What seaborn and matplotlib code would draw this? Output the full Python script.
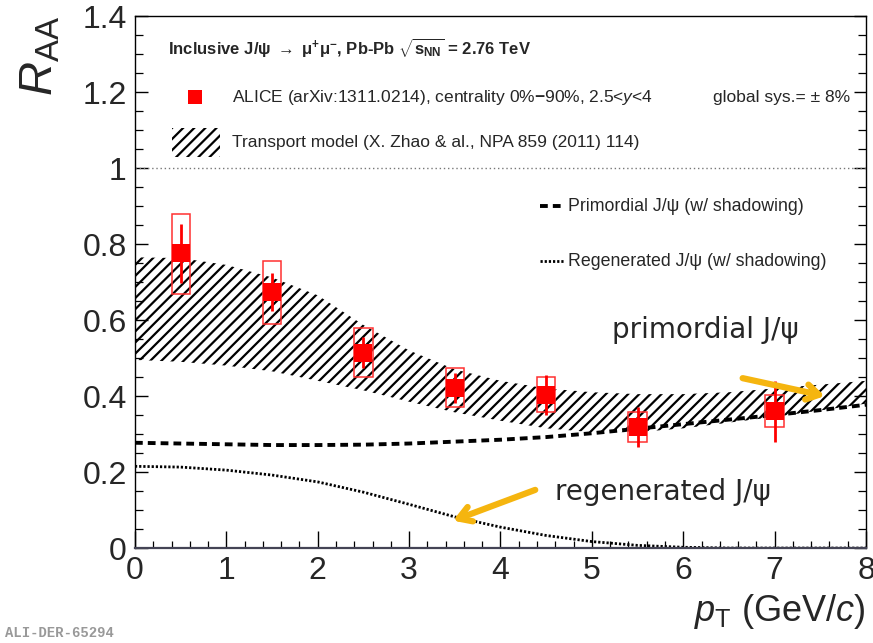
import numpy as np
import pandas as pd
import matplotlib
matplotlib.use("Agg")
import matplotlib.pyplot as plt
import seaborn as sns
from matplotlib.patches import Rectangle
from matplotlib.ticker import MultipleLocator, FixedLocator, FixedFormatter

# ---------------- data ----------------
pt_points = [0.5, 1.5, 2.5, 3.5, 4.5, 5.5, 7.0]
raa = [0.776, 0.674, 0.513, 0.421, 0.403, 0.318, 0.360]
stat_lo = [0.697, 0.624, 0.473, 0.382, 0.350, 0.266, 0.279]
stat_hi = [0.853, 0.724, 0.555, 0.461, 0.455, 0.371, 0.440]
sys_lo = [0.668, 0.590, 0.450, 0.371, 0.358, 0.279, 0.318]
sys_hi = [0.880, 0.755, 0.579, 0.474, 0.450, 0.358, 0.403]

pt_model = [0.0, 0.5, 1.0, 1.5, 2.0, 2.5, 3.0, 3.5, 4.0, 4.5, 5.0, 5.5, 6.0, 6.5, 7.0, 7.5, 8.0]
band_hi = [0.765, 0.763, 0.745, 0.712, 0.665, 0.587, 0.520, 0.470, 0.440, 0.420, 0.410, 0.405, 0.405, 0.410, 0.420, 0.430, 0.440]
band_lo = [0.495, 0.490, 0.480, 0.465, 0.440, 0.415, 0.385, 0.357, 0.335, 0.315, 0.305, 0.305, 0.315, 0.330, 0.345, 0.362, 0.380]
primordial = [0.277, 0.275, 0.273, 0.271, 0.271, 0.272, 0.275, 0.280, 0.285, 0.292, 0.302, 0.314, 0.326, 0.338, 0.350, 0.363, 0.377]
regenerated = [0.215, 0.213, 0.205, 0.192, 0.174, 0.147, 0.115, 0.082, 0.055, 0.033, 0.017, 0.007, 0.002, 0.0, 0.0, 0.0, 0.0]

xticks = [0, 1, 2, 3, 4, 5, 6, 7, 8]
xtick_labels = ["0", "1", "2", "3", "4", "5", "6", "7", "8"]
yticks = [0.0, 0.2, 0.4, 0.6, 0.8, 1.0, 1.2, 1.4]
ytick_labels = ["0", "0.2", "0.4", "0.6", "0.8", "1", "1.2", "1.4"]

# ---------------- style ----------------
sns.set_style("ticks")
plt.rcParams["font.family"] = ["Liberation Sans", "DejaVu Sans"]
plt.rcParams["mathtext.fontset"] = "custom"
plt.rcParams["mathtext.rm"] = "Liberation Sans"
plt.rcParams["mathtext.it"] = "Liberation Sans:italic"
plt.rcParams["mathtext.bf"] = "Liberation Sans:bold"
plt.rcParams["hatch.linewidth"] = 1.6

fig = plt.figure(figsize=(8.73, 6.43), dpi=100)
ax = fig.add_axes([0.1546, 0.1477, 0.8374, 0.8274])

pts = pd.DataFrame({"pt": pt_points, "raa": raa})
model = pd.DataFrame({"pt": pt_model, "hi": band_hi, "lo": band_lo,
                      "prim": primordial, "regen": regenerated})

# hatched transport-model band
ax.fill_between(model["pt"], model["lo"], model["hi"], facecolor="none",
                edgecolor="black", hatch="///", linewidth=0, zorder=1)

# primordial and regenerated curves
sns.lineplot(data=model, x="pt", y="prim", ax=ax, color="black", lw=2.8,
             zorder=2).lines[-1].set_dashes((2.0, 1.3))
sns.lineplot(data=model, x="pt", y="regen", ax=ax, color="black", lw=2.0,
             zorder=2).lines[-1].set_dashes((0.8, 0.7))

# unity reference line
ax.axhline(1.0, color="#777777", lw=1.0, ls=(0, (1, 2)), zorder=1)

# systematic boxes
ax.bar(pt_points, np.array(sys_hi) - np.array(sys_lo), bottom=sys_lo, width=0.2,
       fill=False, edgecolor="#ff3030", linewidth=1.1, zorder=3)
# stat errors
ax.errorbar(pt_points, raa,
            yerr=[np.array(raa) - np.array(stat_lo), np.array(stat_hi) - np.array(raa)],
            fmt="none", ecolor="red", elinewidth=2.0, capsize=0, zorder=4)
sns.scatterplot(data=pts, x="pt", y="raa", ax=ax, marker="s", color="red",
                s=150, edgecolor="red", linewidth=0, zorder=5)

# ---------------- axes ----------------
ax.set_xlim(0, 8)
ax.set_ylim(0, 1.4)
ax.xaxis.set_major_locator(FixedLocator(xticks))
ax.xaxis.set_major_formatter(FixedFormatter(xtick_labels))
ax.yaxis.set_major_locator(FixedLocator(yticks))
ax.yaxis.set_major_formatter(FixedFormatter(ytick_labels))
ax.xaxis.set_minor_locator(MultipleLocator(0.2))
ax.yaxis.set_minor_locator(MultipleLocator(0.05))
ax.tick_params(which="both", direction="in", top=False, right=True, color="black")
ax.tick_params(which="major", labelsize=23, pad=6)
ax.tick_params(axis="y", which="major", length=9, width=1.0)
ax.tick_params(axis="y", which="minor", length=6, width=0.9)
ax.tick_params(axis="x", which="major", length=12, width=1.0)
ax.tick_params(axis="x", which="minor", length=5, width=0.9)
for s in ax.spines.values():
    s.set_linewidth(1.0)
    s.set_color("black")
ax.spines["bottom"].set_linewidth(1.6)
ax.spines["bottom"].set_color("#444455")

ax.set_xlabel(r"$p_{\mathrm{T}}$ (GeV/$c$)", fontsize=26, loc="right", labelpad=4)
ax.set_ylabel(r"$R_{\mathrm{AA}}$", fontsize=34, loc="top", labelpad=14)

# ---------------- legend (drawn as text) ----------------
def px(xp, yp):
    # figure-pixel to axes fraction
    x0, y0 = 135, 548
    return ((xp - x0) / (866 - x0), (y0 - yp) / (548 - 16))

ax.text(*px(168, 48), r"Inclusive J/ψ $\rightarrow$ μ$^{\mathbf{+}}$μ$^{\mathbf{-}}$, Pb-Pb $\sqrt{\mathbf{s}_{\mathbf{NN}}}$ = 2.76 TeV",
        transform=ax.transAxes, fontsize=12, fontweight="bold", va="center", ha="left")
ax.add_patch(Rectangle(px(188, 104), 14 / 731, 14 / 532, transform=ax.transAxes,
                       facecolor="red", edgecolor="none"))
ax.text(*px(232, 97), r"ALICE (arXiv:1311.0214), centrality 0%$\mathbf{-}$90%, 2.5<$y$<4",
        transform=ax.transAxes, fontsize=12.5, va="center", ha="left")
ax.text(*px(713, 97), "global sys.= \u00b1 8%", transform=ax.transAxes, fontsize=12.5,
        va="center", ha="left")
ax.add_patch(Rectangle(px(172, 157), 48 / 731, 29 / 532, transform=ax.transAxes,
                       facecolor="none", edgecolor="black", hatch="///", linewidth=0))
ax.text(*px(232, 142), "Transport model (X. Zhao & al., NPA 859 (2011) 114)",
        transform=ax.transAxes, fontsize=12.5, va="center", ha="left")
lx0, ly0 = px(540, 206)
lx1, _ = px(565, 206)
ax.plot([lx0, lx1], [ly0, ly0], transform=ax.transAxes, color="black", lw=2.8,
        dashes=(2.0, 1.3))
ax.text(*px(568, 206), "Primordial J/ψ (w/ shadowing)", transform=ax.transAxes,
        fontsize=12.8, va="center", ha="left")
lx0, ly0 = px(540, 261)
ax.plot([lx0, lx1], [ly0, ly0], transform=ax.transAxes, color="black", lw=2.0,
        dashes=(0.8, 0.7))
ax.text(*px(568, 261), "Regenerated J/ψ (w/ shadowing)", transform=ax.transAxes,
        fontsize=12.8, va="center", ha="left")

# ---------------- annotations ----------------
orange = "#F5B50F"
ax.text(5.22, 0.574, "primordial J/ψ", fontsize=20, family="DejaVu Sans",
        va="center", ha="left")
ax.text(4.6, 0.147, "regenerated J/ψ", fontsize=20, family="DejaVu Sans",
        va="center", ha="left")
ax.annotate("", xy=(7.55, 0.40), xytext=(6.65, 0.447),
            arrowprops=dict(arrowstyle="->,head_length=0.9,head_width=0.55",
                            color=orange, lw=4.5, shrinkA=0, shrinkB=0), zorder=6)
ax.annotate("", xy=(3.48, 0.072), xytext=(4.38, 0.153),
            arrowprops=dict(arrowstyle="->,head_length=0.9,head_width=0.55",
                            color=orange, lw=4.5, shrinkA=0, shrinkB=0), zorder=6)

fig.text(5 / 873, 1 - 633 / 643, "ALI-DER-65294", family="Liberation Mono",
         fontsize=10, color="#999999", fontweight="bold", va="center", ha="left")

fig.savefig("out.png", dpi=100)
